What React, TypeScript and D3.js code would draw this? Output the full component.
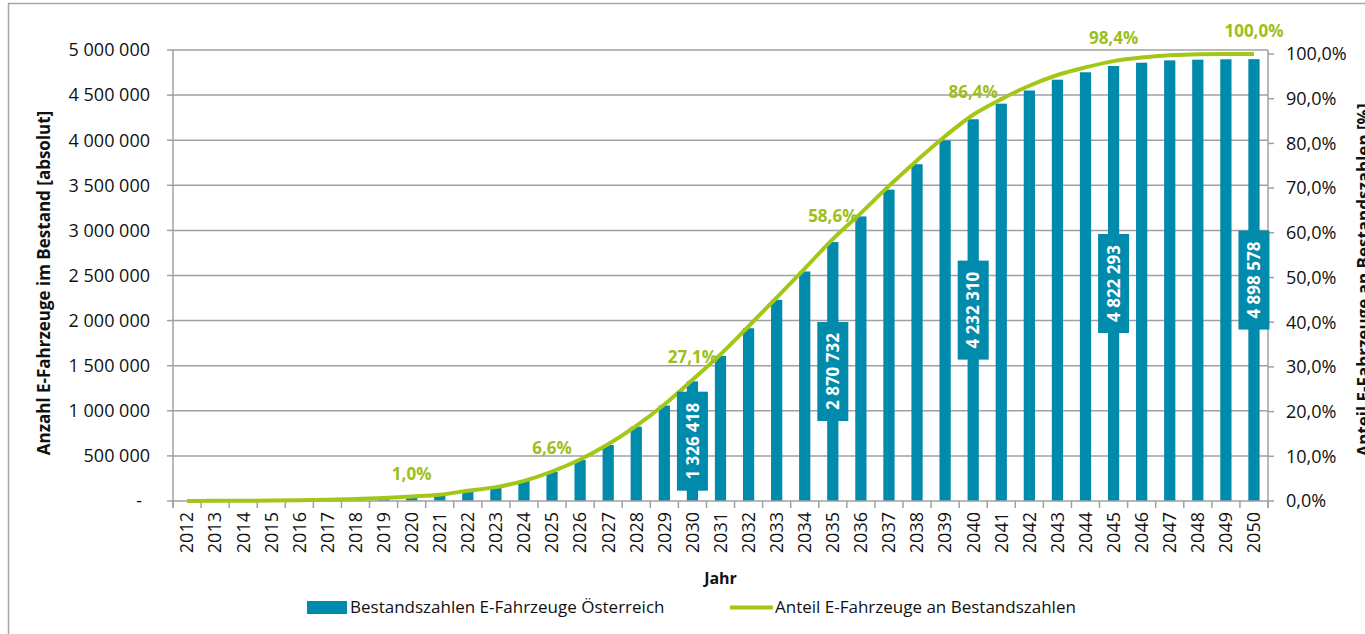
import React from 'react';
import * as d3 from 'd3';

// Jahre 2012 - 2050
const years: string[] = d3.range(2012, 2051).map(String);

// Bestandszahlen E-Fahrzeuge Österreich (absolut)
const stockValues: number[] = [
    500, 1500, 3000, 5000, 9000, 14000, 22000, 33000, 49000, 68000,
    112000, 152000, 222000, 323000, 455000, 621000, 824000, 1058000, 1326418, 1608000,
    1915000, 2230000, 2545000, 2870732, 3155000, 3452000, 3734000, 3997000, 4232310, 4405000,
    4551000, 4671000, 4753000, 4822293, 4859000, 4885000, 4893000, 4897000, 4898578,
];

// Anteil E-Fahrzeuge an Bestandszahlen (0..1)
const shareValues: number[] = [
    0.0001, 0.0003, 0.0006, 0.001, 0.0018, 0.0029, 0.0045, 0.0067, 0.010, 0.014,
    0.023, 0.031, 0.045, 0.066, 0.093, 0.127, 0.168, 0.216, 0.271, 0.328,
    0.391, 0.455, 0.520, 0.586, 0.644, 0.705, 0.762, 0.816, 0.864, 0.899,
    0.929, 0.953, 0.970, 0.984, 0.992, 0.997, 0.9995, 1.0, 1.0,
];

// Jahre mit Datenbeschriftung
const labelYears: string[] = ['2020', '2025', '2030', '2035', '2040', '2045', '2050'];
const barLabelYears: string[] = ['2030', '2035', '2040', '2045', '2050'];

const leftTicks: number[] = d3.range(0, 5000001, 500000);
const rightTicks: number[] = d3.range(0, 11).map(i => i / 10);

const TEAL = '#008AAB';
const GREEN = '#A3C717';
const GREEN_TEXT = '#9CBF1C';
const GRID = '#A0A0A0';
const FONT = '"Open Sans", sans-serif';

const locale = d3.formatLocale({ decimal: ',', thousands: ' ', grouping: [3], currency: ['', ' €'] });
const fmtNum = locale.format(',d');
const fmtPct = locale.format('.1%');

export default function App() {
    const width = 1365;
    const height = 634;
    const plot = { left: 173, right: 1268, top: 50, bottom: 501 };

    const x = d3.scaleBand<string>()
        .domain(years)
        .range([plot.left, plot.right])
        .paddingInner(0.6)
        .paddingOuter(0.3);
    const step = x.step();
    const cx = (y: string) => (x(y) as number) + x.bandwidth() / 2;

    const yLeft = d3.scaleLinear().domain([0, 5000000]).range([plot.bottom, plot.top]);
    const yRight = d3.scaleLinear().domain([0, 1]).range([plot.bottom, 54]);

    const line = d3.line<number>()
        .x((_, i) => cx(years[i]))
        .y(d => yRight(d))
        .curve(d3.curveMonotoneX);

    return (
        <svg width={width} height={height} style={{ position: 'absolute', left: 0, top: 0, fontFamily: FONT }}>
            <rect x={0} y={0} width={width} height={height} fill="#fff" />
            {/* Diagrammrahmen */}
            <rect x={8.5} y={3.5} width={1500} height={800} fill="none" stroke="#A6A6A6" strokeWidth={1.5} />

            {/* Gitternetz */}
            {leftTicks.filter(t => t > 0).map(t => (
                <line key={`g${t}`} x1={plot.left} x2={plot.right} y1={yLeft(t)} y2={yLeft(t)} stroke={GRID} strokeWidth={1.5} />
            ))}

            {/* Säulen */}
            {years.map((yr, i) => (
                <rect key={yr} x={x(yr)} y={yLeft(stockValues[i])} width={x.bandwidth()}
                    height={plot.bottom - yLeft(stockValues[i])} fill={TEAL} />
            ))}

            {/* Achsen */}
            <line x1={plot.left} x2={plot.right} y1={plot.bottom} y2={plot.bottom} stroke={GRID} strokeWidth={1.5} />
            <line x1={plot.left} x2={plot.left} y1={plot.top} y2={plot.bottom + 7} stroke={GRID} strokeWidth={1.5} />
            <line x1={plot.right} x2={plot.right} y1={plot.top} y2={plot.bottom + 7} stroke={GRID} strokeWidth={1.5} />
            {d3.range(0, years.length + 1).map(i => (
                <line key={`xt${i}`} x1={plot.left + step * i} x2={plot.left + step * i} y1={plot.bottom} y2={plot.bottom + 7} stroke={GRID} strokeWidth={1.5} />
            ))}
            {leftTicks.map(t => (
                <g key={`lt${t}`}>
                    <line x1={plot.left - 6} x2={plot.left} y1={yLeft(t)} y2={yLeft(t)} stroke={GRID} strokeWidth={1.5} />
                    <text x={t === 0 ? 142 : 150} y={yLeft(t)} dy="0.35em" textAnchor="end" fontSize={18} fill="#111">
                        {t === 0 ? '-' : fmtNum(t)}
                    </text>
                </g>
            ))}
            {rightTicks.map(t => (
                <g key={`rt${t}`}>
                    <line x1={plot.right} x2={plot.right + 6} y1={yRight(t)} y2={yRight(t)} stroke={GRID} strokeWidth={1.5} />
                    <text x={1286} y={yRight(t)} dy="0.35em" textAnchor="start" fontSize={18} fill="#111">
                        {fmtPct(t)}
                    </text>
                </g>
            ))}
            {years.map(yr => (
                <text key={`xl${yr}`} transform={`translate(${cx(yr)},${plot.bottom + 11}) rotate(-90)`}
                    dy="0.35em" textAnchor="end" fontSize={18} fill="#111">{yr}</text>
            ))}

            {/* Anteil-Linie */}
            <path d={line(shareValues) ?? ''} fill="none" stroke={GREEN} strokeWidth={4} />

            {/* Säulenbeschriftungen */}
            {barLabelYears.map(yr => {
                const v = stockValues[years.indexOf(yr)];
                const my = yLeft(v / 2);
                return (
                    <g key={`bl${yr}`} transform={`translate(${cx(yr)},${my})`}>
                        <rect x={-15.5} y={-49.5} width={31} height={99} fill={TEAL} />
                        <text transform="rotate(-90)" dy="0.36em" textAnchor="middle" fontSize={17}
                            fontWeight="bold" fill="#fff">{fmtNum(v)}</text>
                    </g>
                );
            })}

            {/* Anteil-Beschriftungen */}
            {labelYears.map(yr => {
                const v = shareValues[years.indexOf(yr)];
                return (
                    <text key={`pl${yr}`} x={cx(yr)} y={yRight(v) - 17} textAnchor="middle" fontSize={17}
                        fontWeight="bold" fill={GREEN_TEXT}>{fmtPct(v)}</text>
                );
            })}

            {/* Achsentitel */}
            <text transform={`translate(50,283) rotate(-90)`} textAnchor="middle" fontSize={17} fontWeight="bold" fill="#111">
                Anzahl E-Fahrzeuge im Bestand [absolut]
            </text>
            <text transform={`translate(1370,280) rotate(-90)`} textAnchor="middle" fontSize={17} fontWeight="bold" fill="#111">
                Anteil E-Fahrzeuge an Bestandszahlen [%]
            </text>
            <text x={(plot.left + plot.right) / 2} y={584} textAnchor="middle" fontSize={16} fontWeight="bold" fill="#111">Jahr</text>

            {/* Legende */}
            <rect x={307} y={601} width={40} height={13} fill={TEAL} />
            <text x={350} y={613} fontSize={17} fill="#111">Bestandszahlen E-Fahrzeuge Österreich</text>
            <line x1={730} x2={773} y1={607.5} y2={607.5} stroke={GREEN} strokeWidth={4} />
            <text x={775} y={613} fontSize={17} fill="#111">Anteil E-Fahrzeuge an Bestandszahlen</text>
        </svg>
    );
}
